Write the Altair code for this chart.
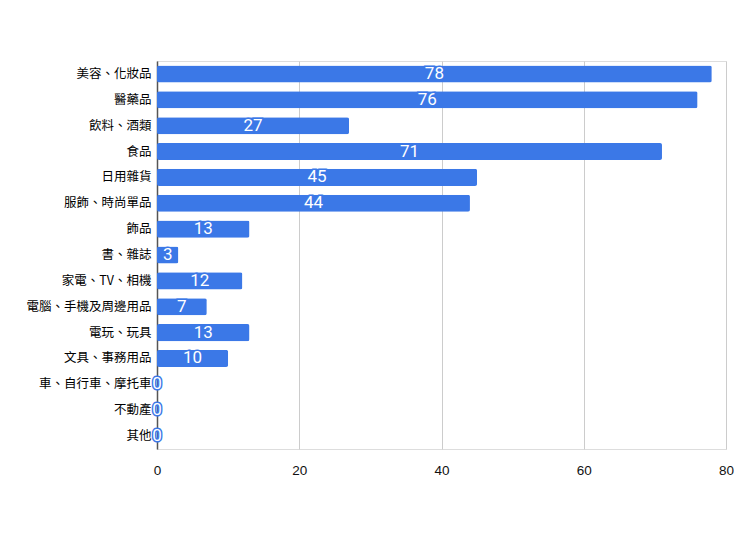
import altair as alt
import pandas as pd

categories = ["美容、化妝品", "醫藥品", "飲料、酒類", "食品", "日用雜貨", "服飾、時尚單品", "飾品",
              "書、雜誌", "家電、TV、相機", "電腦、手機及周邊用品", "電玩、玩具", "文具、事務用品",
              "車、自行車、摩托車", "不動產", "其他"]
values = [78, 76, 27, 71, 45, 44, 13, 3, 12, 7, 13, 10, 0, 0, 0]

df = pd.DataFrame({"cat": categories, "val": values})
df["mid"] = df["val"] / 2

BLUE = "#3b78e7"
FONT = "Noto Sans CJK TC"

y = alt.Y("cat:N", sort=categories, title=None,
          scale=alt.Scale(paddingInner=0.34, paddingOuter=0.17),
          axis=alt.Axis(ticks=False, domain=True, domainColor="#555555", domainWidth=1.5,
                        labelFont=FONT, labelFontSize=12.5, labelColor="#000000", labelPadding=6,
                        grid=False))
x = alt.X("val:Q", title=None, scale=alt.Scale(domain=[0, 80], nice=False),
          axis=alt.Axis(values=[0, 20, 40, 60, 80], domain=False, ticks=False, labelFlush=False,
                        grid=True, gridColor="#cccccc", labelFont="Liberation Sans", labelFontSize=13.5,
                        labelColor="#111111", labelPadding=14))

bars = alt.Chart(df).mark_bar(color=BLUE, cornerRadius=2).encode(x=x, y=y)

halo = alt.Chart(df).mark_text(font="Roboto", fontSize=17, stroke=BLUE, strokeWidth=3,
                               fill=BLUE, baseline="middle").encode(
    x=alt.X("mid:Q"), y=alt.Y("cat:N", sort=categories), text="val:Q")
labels = alt.Chart(df).mark_text(font="Roboto", fontSize=17, color="white",
                                 baseline="middle").encode(
    x=alt.X("mid:Q"), y=alt.Y("cat:N", sort=categories), text="val:Q")

chart = alt.layer(bars, halo, labels).properties(
    width=569, height=388,
    autosize=alt.AutoSizeParams(type="none"),
    padding={"left": 149, "top": 53, "right": 8, "bottom": 50},
).configure_view(stroke=None).configure(background="white")

chart.save("out.html", embed_options={"renderer": "svg", "actions": False})
